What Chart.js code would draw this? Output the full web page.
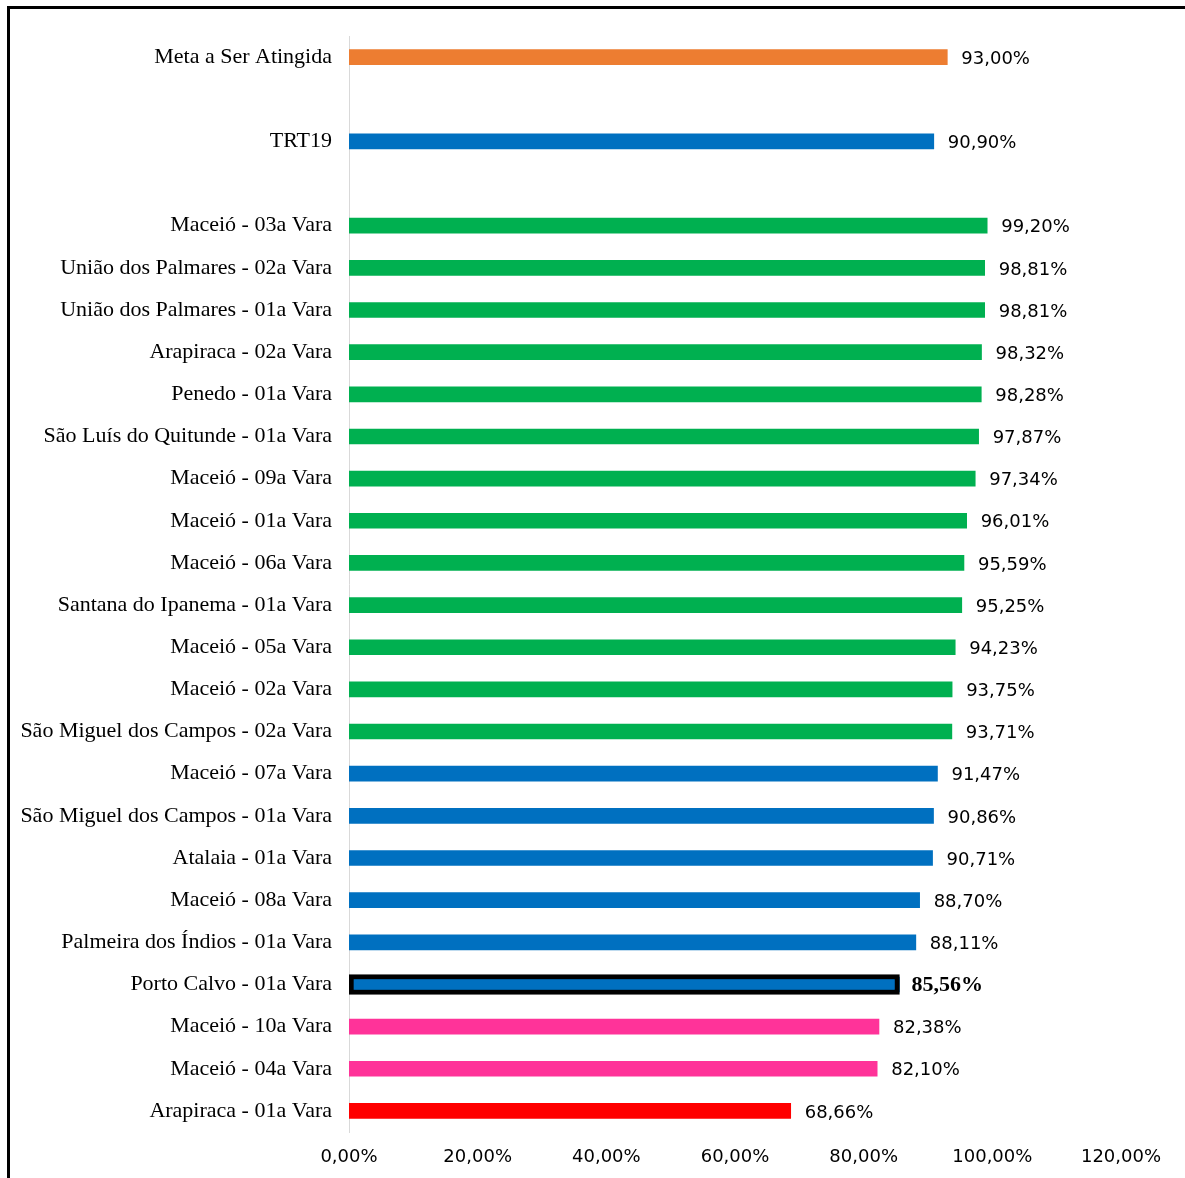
<!DOCTYPE html>
<html>
<head>
<meta charset="utf-8">
<script src="https://cdn.jsdelivr.net/npm/chart.js@4/dist/chart.umd.min.js"></script>
<style>
  html, body { margin:0; padding:0; background:#fff; }
  #wrap { position:relative; width:1185px; height:1178px; }
  #frame { position:absolute; left:7px; top:6px; right:0; bottom:0;
           border-left:3px solid #000; border-top:3px solid #000; pointer-events:none; }
</style>
</head>
<body>
<div id="wrap">
  <canvas id="chart"></canvas>
  <div id="frame"></div>
</div>
<script>
// categories, top to bottom ("" = empty spacer row)
const LABELS = [
  "Meta a Ser Atingida", "",
  "TRT19", "",
  "Maceió - 03a Vara",
  "União dos Palmares - 02a Vara",
  "União dos Palmares - 01a Vara",
  "Arapiraca - 02a Vara",
  "Penedo - 01a Vara",
  "São Luís do Quitunde - 01a Vara",
  "Maceió - 09a Vara",
  "Maceió - 01a Vara",
  "Maceió - 06a Vara",
  "Santana do Ipanema - 01a Vara",
  "Maceió - 05a Vara",
  "Maceió - 02a Vara",
  "São Miguel dos Campos - 02a Vara",
  "Maceió - 07a Vara",
  "São Miguel dos Campos - 01a Vara",
  "Atalaia - 01a Vara",
  "Maceió - 08a Vara",
  "Palmeira dos Índios - 01a Vara",
  "Porto Calvo - 01a Vara",
  "Maceió - 10a Vara",
  "Maceió - 04a Vara",
  "Arapiraca - 01a Vara",
];

const VALUES = [
  93.00, null,
  90.90, null,
  99.20, 98.81, 98.81, 98.32, 98.28, 97.87, 97.34, 96.01, 95.59, 95.25,
  94.23, 93.75, 93.71, 91.47, 90.86, 90.71, 88.70, 88.11, 85.56,
  82.38, 82.10, 68.66,
];

const X_TICKS = [0, 20, 40, 60, 80, 100, 120];

const HIGHLIGHT = "Porto Calvo - 01a Vara";

const ORANGE = "#ED7D31", BLUE = "#0070C0", GREEN = "#00B050", PINK = "#FF3399", RED = "#FF0000";
const BAR_COLORS = [
  ORANGE, null, BLUE, null,
  GREEN, GREEN, GREEN, GREEN, GREEN, GREEN, GREEN, GREEN, GREEN, GREEN, GREEN, GREEN, GREEN,
  BLUE, BLUE, BLUE, BLUE, BLUE, BLUE,
  PINK, PINK, RED,
];

const fmt = v => v.toFixed(2).replace(".", ",") + "%";
const hiIdx = LABELS.indexOf(HIGHLIGHT);

const valueLabels = {
  id: "valueLabels",
  afterDatasetsDraw(chart) {
    const ctx = chart.ctx;
    const meta = chart.getDatasetMeta(0);
    ctx.save();
    ctx.fillStyle = "#000";
    ctx.textBaseline = "middle";
    ctx.textAlign = "left";
    meta.data.forEach((el, i) => {
      const v = VALUES[i];
      if (v == null) return;
      if (i === hiIdx) {
        ctx.font = "bold 22px 'Liberation Serif'";
        ctx.fillText(fmt(v), el.x + 12, el.y + 1);
      } else {
        ctx.font = "18px 'DejaVu Sans'";
        ctx.fillText(fmt(v), el.x + 14, el.y + 2);
      }
    });
    ctx.restore();
  }
};

new Chart(document.getElementById("chart"), {
  type: "bar",
  data: {
    labels: LABELS,
    datasets: [
      {
        data: VALUES,
        backgroundColor: BAR_COLORS,
        barThickness: 15,
        order: 1,
      },
      {
        // outlined highlight bar, drawn on top
        data: VALUES.map((v, i) => i === hiIdx ? v : null),
        backgroundColor: BLUE,
        borderColor: "#000",
        borderWidth: 5,
        borderSkipped: false,
        barThickness: 20,
        grouped: false,
        order: 0,
      }
    ]
  },
  options: {
    indexAxis: "y",
    responsive: true,
    maintainAspectRatio: false,
    animation: false,
    layout: { padding: { top: 36, right: 64, bottom: 0, left: 0 } },
    plugins: { legend: { display: false }, tooltip: { enabled: false } },
    scales: {
      x: {
        min: 0, max: 120,
        afterBuildTicks: s => { s.ticks = X_TICKS.map(v => ({ value: v })); },
        afterFit: s => { s.height = 46; },
        grid: { display: false, drawTicks: false },
        border: { display: false },
        ticks: {
          padding: 15,
          color: "#000",
          font: { family: "DejaVu Sans", size: 18 },
          callback: v => fmt(v),
        }
      },
      y: {
        afterFit: s => { s.width = 349; },
        grid: { display: false, drawTicks: false },
        border: { display: true, color: "#d9d9d9", width: 1 },
        ticks: {
          padding: 17,
          color: "#000",
          autoSkip: false,
          font: { family: "Liberation Serif", size: 22 },
        }
      }
    }
  },
  plugins: [valueLabels]
});
</script>
</body>
</html>
